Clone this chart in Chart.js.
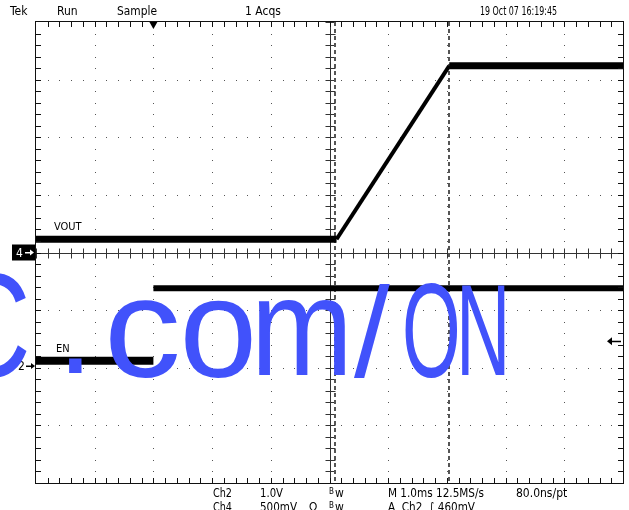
<!DOCTYPE html>
<html>
<head>
<meta charset="utf-8">
<script src="https://cdn.jsdelivr.net/npm/chart.js@4.4.0/dist/chart.umd.min.js"></script>
<style>
html, body { margin: 0; padding: 0; background: #fff; }
#wrap { width: 629px; height: 510px; overflow: hidden; }
</style>
</head>
<body>
<div id="wrap"><canvas id="scope" width="629" height="510"></canvas></div>
<script>
// horizontal: time in ms (1.0 ms/div, trigger 2 div from left); vertical: divisions from centre
const timeRange = [-2, 8];
const divRange = [-4, 4];

// Ch4 - VOUT
const voutTime = [-2, 3.12, 5.04, 8];
const voutDiv = [0.23, 0.23, 3.24, 3.24];

// Ch2 - EN
const enTime = [-2, 0, 0, 8];
const enDiv = [-1.88, -1.88, -0.62, -0.62];

// cursors (ms)
const cursorTimes = [3.10, 5.04];

// markers (divisions / ms)
const ch4Ground = 0;
const ch2Ground = -1.97;
const trigLevel = -1.54;
const trigTime = 0;

// screen texts
const headerLabels = ["Tek", "Run", "Sample", "1 Acqs", "19 Oct 07 16:19:45"];
const footerRow1 = ["Ch2", "1.0V", "Bw", "M 1.0ms 12.5MS/s", "80.0ns/pt"];
const footerRow2 = ["Ch4", "500mV", "\u03A9", "Bw", "A  Ch2  \u222B 460mV"];
const traceNames = ["VOUT", "EN"];
const watermark = "C.com/ON";

const FONT = '"Liberation Sans Narrow", "Arial Narrow", "DejaVu Sans Condensed", "Liberation Sans", sans-serif';

function pts(xs, ys) {
	return xs.map(function(t, i) { return {x: t, y: ys[i]}; });
}

// draw text squeezed into a given span [left,right], vertically centred on cy
function spanText(ctx, txt, left, right, cy, size) {
	ctx.font = size + 'px ' + FONT;
	ctx.textBaseline = 'middle';
	ctx.textAlign = 'left';
	if (txt === 'Bw') {
		ctx.font = (size - 4) + 'px ' + FONT;
		ctx.fillText('B', left, cy - 2);
		ctx.font = size + 'px ' + FONT;
		ctx.fillText('w', left + 6, cy, right - left - 6);
		return;
	}
	ctx.fillText(txt, left, cy, right - left);
}

// draw one glyph stretched into a box (uniform = keep aspect, centred in box)
function boxGlyph(ctx, ch, left, right, top, bottom, uniform) {
	ctx.font = '100px "Liberation Sans", sans-serif';
	ctx.textAlign = 'left';
	ctx.textBaseline = 'alphabetic';
	var m = ctx.measureText(ch);
	var gw = m.actualBoundingBoxLeft + m.actualBoundingBoxRight;
	var gh = m.actualBoundingBoxAscent + m.actualBoundingBoxDescent;
	var sy = (bottom - top) / gh;
	var sx = uniform ? sy : (right - left) / gw;
	if (uniform) left = (left + right) / 2 - gw * sx / 2;
	ctx.save();
	ctx.translate(left, top);
	ctx.scale(sx, sy);
	ctx.fillText(ch, m.actualBoundingBoxLeft, m.actualBoundingBoxAscent);
	ctx.restore();
}

const scopePlugin = {
	id: 'scopeScreen',
	beforeDatasetsDraw(chart) {
		const ctx = chart.ctx, a = chart.chartArea;
		const xs = chart.scales.x, ys = chart.scales.y;
		ctx.save();

		// dotted graticule
		ctx.fillStyle = '#555';
		for (let d = timeRange[0] + 1; d < timeRange[1]; d++) {
			if (d === 3) continue;
			const px = Math.round(xs.getPixelForValue(d));
			for (let k = 0; k <= 40; k++) {
				ctx.fillRect(px, Math.round(ys.getPixelForValue(divRange[0] + k * 0.2)), 1, 1);
			}
		}
		for (let v = divRange[0] + 1; v < divRange[1]; v++) {
			if (v === 0) continue;
			const py = Math.round(ys.getPixelForValue(v));
			for (let k = 0; k <= 50; k++) {
				ctx.fillRect(Math.round(xs.getPixelForValue(timeRange[0] + k * 0.2)), py, 1, 1);
			}
		}

		// centre axes with minor ticks
		ctx.strokeStyle = '#333';
		ctx.lineWidth = 1;
		const cx = Math.round(xs.getPixelForValue(3)) + 0.5;
		const cy = Math.round(ys.getPixelForValue(0)) + 0.5;
		ctx.beginPath();
		ctx.moveTo(cx, a.top); ctx.lineTo(cx, a.bottom);
		ctx.moveTo(a.left, cy); ctx.lineTo(a.right, cy);
		for (let k = 0; k <= 50; k++) {
			const px = Math.round(xs.getPixelForValue(timeRange[0] + k * 0.2)) + 0.5;
			ctx.moveTo(px, cy - 5); ctx.lineTo(px, cy + 5);
		}
		for (let k = 0; k <= 40; k++) {
			const py = Math.round(ys.getPixelForValue(divRange[0] + k * 0.2)) + 0.5;
			ctx.moveTo(cx - 5, py); ctx.lineTo(cx + 5, py);
		}
		ctx.stroke();

		// cursors
		ctx.strokeStyle = '#555';
		ctx.lineWidth = 2;
		ctx.setLineDash([4, 3]);
		ctx.beginPath();
		cursorTimes.forEach(function(t) {
			const px = Math.round(xs.getPixelForValue(t));
			ctx.moveTo(px, a.top); ctx.lineTo(px, a.bottom);
		});
		ctx.stroke();
		ctx.setLineDash([]);
		ctx.restore();
	},
	afterDraw(chart) {
		const ctx = chart.ctx, a = chart.chartArea;
		const xs = chart.scales.x, ys = chart.scales.y;
		ctx.save();

		// frame with edge ticks
		ctx.strokeStyle = '#111';
		ctx.lineWidth = 1;
		ctx.strokeRect(a.left - 0.5, a.top - 0.5, a.right - a.left + 1, a.bottom - a.top + 1);
		ctx.beginPath();
		for (let k = 1; k < 50; k++) {
			const px = Math.round(xs.getPixelForValue(timeRange[0] + k * 0.2)) + 0.5;
			ctx.moveTo(px, a.top); ctx.lineTo(px, a.top + 5);
			ctx.moveTo(px, a.bottom); ctx.lineTo(px, a.bottom - 5);
		}
		for (let k = 1; k < 40; k++) {
			const py = Math.round(ys.getPixelForValue(divRange[0] + k * 0.2)) + 0.5;
			ctx.moveTo(a.left, py); ctx.lineTo(a.left + 5, py);
			ctx.moveTo(a.right, py); ctx.lineTo(a.right - 5, py);
		}
		ctx.stroke();

		ctx.fillStyle = '#000';
		// trigger position marker
		const tx = xs.getPixelForValue(trigTime);
		ctx.beginPath();
		ctx.moveTo(tx - 4, a.top); ctx.lineTo(tx + 4, a.top); ctx.lineTo(tx, a.top + 7);
		ctx.closePath(); ctx.fill();

		// trigger level marker (right)
		const ly = ys.getPixelForValue(trigLevel);
		ctx.beginPath();
		ctx.moveTo(a.right - 16, ly); ctx.lineTo(a.right - 11, ly - 4); ctx.lineTo(a.right - 11, ly + 4);
		ctx.closePath(); ctx.fill();
		ctx.fillRect(a.right - 12, ly - 0.5, 10, 1.5);

		// Ch4 ground marker (selected, boxed)
		const g4 = ys.getPixelForValue(ch4Ground);
		ctx.fillRect(12, g4 - 8, 23, 16);
		ctx.fillStyle = '#fff';
		ctx.font = '12px ' + FONT;
		ctx.textBaseline = 'middle';
		ctx.textAlign = 'left';
		ctx.fillText('4', 16, g4 + 1);
		ctx.fillRect(25, g4 - 0.5, 7, 1.5);
		ctx.beginPath();
		ctx.moveTo(34, g4); ctx.lineTo(30, g4 - 3); ctx.lineTo(30, g4 + 3); ctx.closePath(); ctx.fill();

		// Ch2 ground marker
		const g2 = ys.getPixelForValue(ch2Ground);
		ctx.fillStyle = '#000';
		ctx.fillText('2', 18, g2 + 1);
		ctx.fillRect(26, g2 - 0.5, 6, 1.5);
		ctx.beginPath();
		ctx.moveTo(35, g2); ctx.lineTo(31, g2 - 3); ctx.lineTo(31, g2 + 3); ctx.closePath(); ctx.fill();

		// trace labels
		ctx.font = '11px ' + FONT;
		ctx.fillText(traceNames[0], 54, ys.getPixelForValue(voutDiv[0]) - 12);
		ctx.fillText(traceNames[1], 56, ys.getPixelForValue(enDiv[0]) - 12);

		// header and footer read-outs
		const hdr = [[10, 33], [57, 78], [117, 157], [245, 281], [480, 557]];
		headerLabels.forEach(function(s, i) { spanText(ctx, s, hdr[i][0], hdr[i][1], 12, 12); });
		const f1 = [[213, 232], [260, 283], [329, 345], [388, 484], [516, 569]];
		footerRow1.forEach(function(s, i) { spanText(ctx, s, f1[i][0], f1[i][1], 494, 12); });
		const f2 = [[213, 232], [260, 297], [309, 318], [329, 345], [388, 475]];
		footerRow2.forEach(function(s, i) { spanText(ctx, s, f2[i][0], f2[i][1], 508, 12); });

		// watermark over the screen
		ctx.fillStyle = '#4152fb';
		const boxes = [[-45, 27, 272, 378], [69, 82, 358, 373], [110, 178, 300, 378], [185, 252, 300, 378],
			[258, 345, 300, 375], [348, 396, 283, 378], [405, 457, 283, 378], [462, 505, 285, 375]];
		watermark.split('').forEach(function(ch, i) {
			boxGlyph(ctx, ch, boxes[i][0], boxes[i][1], boxes[i][2], boxes[i][3], ch === '/');
		});
		ctx.restore();
	}
};

new Chart(document.getElementById('scope'), {
	type: 'line',
	data: {
		datasets: [
			{
				label: traceNames[0],
				data: pts(voutTime, voutDiv),
				borderColor: '#000',
				borderWidth: 7,
				pointRadius: 0,
				tension: 0,
				segment: { borderWidth: function(c) { return c.p0DataIndex === 1 ? 4 : 7; } }
			},
			{
				label: traceNames[1],
				data: pts(enTime, enDiv),
				borderColor: '#000',
				borderWidth: 7,
				pointRadius: 0,
				tension: 0,
				segment: {
					borderColor: function(c) { return c.p0DataIndex === 1 ? 'rgba(0,0,0,0)' : '#000'; },
					borderWidth: function(c) { return c.p0DataIndex === 0 ? 8 : 6; }
				}
			}
		]
	},
	options: {
		responsive: false,
		animation: false,
		events: [],
		layout: { padding: { left: 36, top: 22, right: 6, bottom: 27 } },
		scales: {
			x: { type: 'linear', min: timeRange[0], max: timeRange[1], display: false },
			y: { type: 'linear', min: divRange[0], max: divRange[1], display: false }
		},
		plugins: { legend: { display: false }, tooltip: { enabled: false } }
	},
	plugins: [scopePlugin]
});
</script>
</body>
</html>
